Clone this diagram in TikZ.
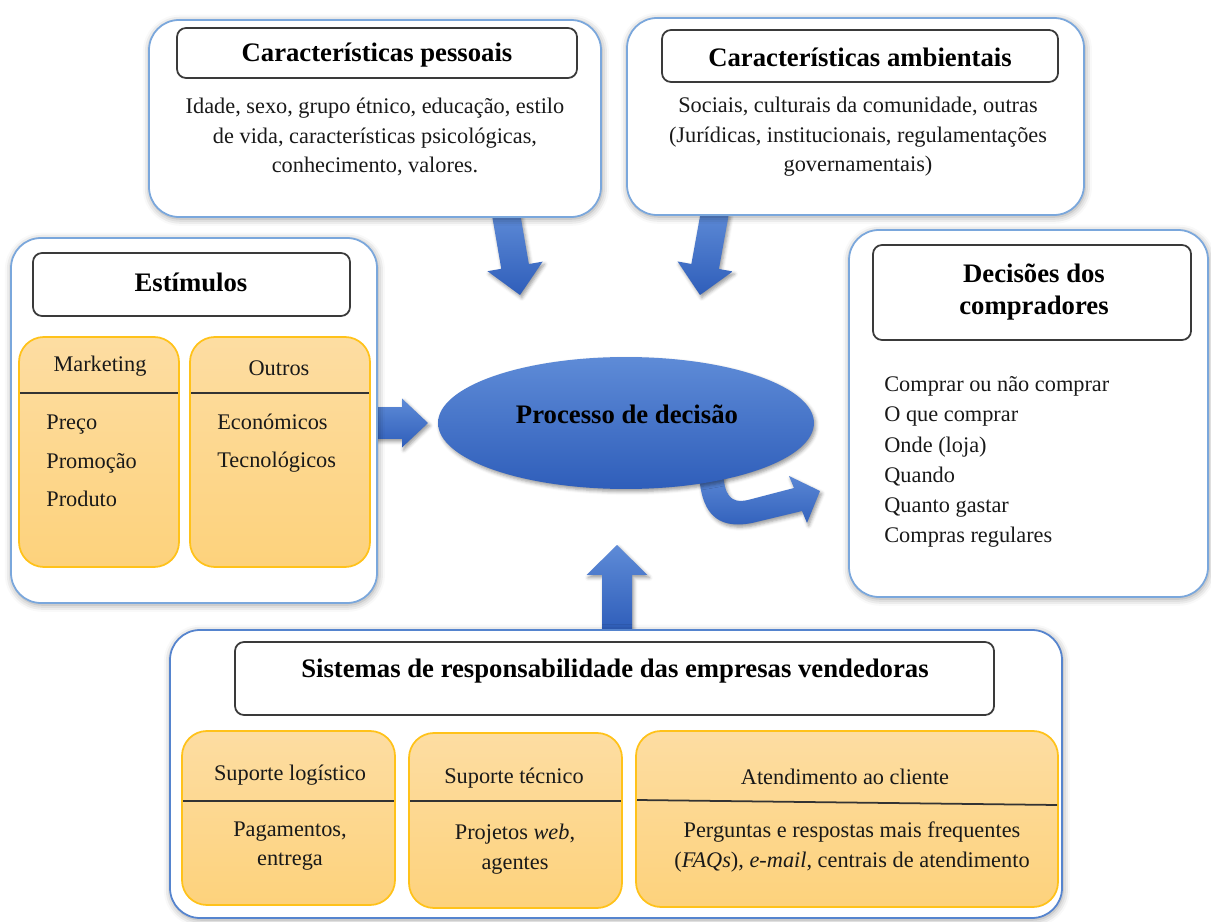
\documentclass[tikz,border=0pt]{standalone}
\usepackage{fontspec}
\setmainfont{Liberation Serif}
\usetikzlibrary{calc,fit,shapes.geometric,shadows.blur}

\definecolor{panelblue}{HTML}{7AA7DC}
\definecolor{panelblueB}{HTML}{5584CE}
\definecolor{headgray}{HTML}{3A3A3A}
\definecolor{ochreline}{HTML}{FFC21A}
\definecolor{ochretop}{HTML}{FDDDA2}
\definecolor{ochrebot}{HTML}{FDD27C}
\definecolor{bluetop}{HTML}{5E8BD7}
\definecolor{bluebot}{HTML}{2F5EBA}

\tikzset{
  panel/.style={draw=panelblue, line width=1pt, fill=white, rounded corners=0.6cm, inner sep=0pt,
    blur shadow={shadow xshift=0.5pt, shadow yshift=-1pt, shadow blur radius=4pt, shadow opacity=40}},
  headbox/.style={draw=headgray, line width=1pt, fill=white, rounded corners=0.18cm, inner sep=0pt},
  ochrebox/.style={draw=ochreline, line width=1pt, rounded corners=0.5cm,
    top color=ochretop, bottom color=ochrebot, inner sep=0pt},
  divider/.style={draw=black!80, line width=1pt},
  txt/.style={font=\fontsize{12.7}{16.7}\selectfont, inner sep=0pt, text=black!90},
  ttl/.style={font=\fontsize{15.2}{18.7}\selectfont\bfseries, inner sep=0pt},
  bluefill/.style={top color=bluetop, bottom color=bluebot, draw=none,
    blur shadow={shadow xshift=1pt, shadow yshift=-1.5pt, shadow blur radius=2pt, shadow opacity=40}},
}

% straight block arrow: [options]{start}{tip}{shaft half width}{head half width}{head length}
\newcommand{\blockarrow}[6][]{%
  \coordinate (ba-h) at ($(#3)!#6!(#2)$);
  \path[bluefill,#1] ($(#2)!#4!90:(#3)$) -- ($(ba-h)!#4!-90:(#2)$) -- ($(ba-h)!#5!-90:(#2)$)
    -- (#3) -- ($(ba-h)!#5!90:(#2)$) -- ($(ba-h)!#4!90:(#2)$) -- ($(#2)!#4!-90:(#3)$) -- cycle;}

\begin{document}
\begin{tikzpicture}[x=0.02cm,y=-0.02cm]
\useasboundingbox (0,0) rectangle (1211,922);

% arrow end points
\coordinate (a1s) at (506,214);
\coordinate (a1e) at (520,295);
\coordinate (a2s) at (715,212);
\coordinate (a2e) at (700,295);
\coordinate (a3s) at (375,423);
\coordinate (a3e) at (428,423);
\coordinate (a4s) at (617,630);
\coordinate (a4e) at (617,545);

% block arrows towards the decision process
\blockarrow{a1s}{a1e}{0.28cm}{0.56cm}{0.58cm}
\blockarrow{a2s}{a2e}{0.28cm}{0.56cm}{0.58cm}
\blockarrow{a3s}{a3e}{0.32cm}{0.49cm}{0.52cm}
\blockarrow{a4s}{a4e}{0.30cm}{0.61cm}{0.60cm}

% bent arrow out of the decision process
\path[bluefill] (699,470) .. controls (700,512) and (716,530) .. (752,523) -- (802,511)
  -- (807,523) -- (820,491) -- (789,476) -- (794,488) -- (748,500)
  .. controls (730,504) and (724,495) .. (723,470) -- cycle;

% outer panels
\node[panel, fit={(149,20) (601,217)}] (pess) {};
\node[panel, fit={(627,18) (1084,215)}] (amb) {};
\node[panel, fit={(11,238) (377,603)}] (stim) {};
\node[panel, fit={(849,230) (1208,597)}] (dec) {};
\node[panel, draw=panelblueB, fit={(170,630) (1062,918)}] (sist) {};

% header boxes
\node[headbox, fit={(177,28) (577,78)}] (pess-h) {};
\node[headbox, fit={(662,30) (1058,82)}] (amb-h) {};
\node[headbox, fit={(33,253) (350,316)}] (stim-h) {};
\node[headbox, fit={(873,245) (1191,340)}] (dec-h) {};
\node[headbox, fit={(235,642) (994,715)}] (sist-h) {};

\node[ttl] (pess-t) at (377,55) {Características pessoais};
\node[ttl] (amb-t) at (860,57) {Características ambientais};
\node[ttl] (stim-t) at (191,282) {Estímulos};
\node[ttl, align=center] (dec-t) at (1034,292) {Decisões dos\\compradores};
\node[ttl] (sist-t) at (615,671) {Sistemas de responsabilidade das empresas vendedoras};

% panel texts
\node[txt, align=center] (pess-b) at (375,137)
  {Idade, sexo, grupo étnico, educação, estilo\\de vida, características psicológicas,\\conhecimento, valores.};
\node[txt, align=center] (amb-b) at (858,137)
  {Sociais, culturais da comunidade, outras\\(Jurídicas, institucionais, regulamentações\\governamentais)};
\node[txt, align=left, anchor=west, font=\fontsize{12.7}{17.2}\selectfont] (dec-b) at (884,462)
  {Comprar ou não comprar\\O que comprar\\Onde (loja)\\Quando\\Quanto gastar\\Compras regulares};

% stimulus columns
\node[ochrebox, fit={(19,337) (179,567)}] (mkt) {};
\node[ochrebox, fit={(190,337) (370,567)}] (outr) {};
\draw[divider] (20,393) -- (178,393);
\draw[divider] (191,393) -- (369,393);
\node[txt] (mkt-t) at (100,366) {Marketing};
\node[txt] (outr-t) at (279,368) {Outros};
\node[txt, align=left, anchor=west, font=\fontsize{12.7}{21.8}\selectfont] (mkt-b) at (46,461)
  {Preço\\Promoção\\Produto};
\node[txt, align=left, anchor=west, font=\fontsize{12.7}{21.8}\selectfont] (outr-b) at (217,443)
  {Económicos\\Tecnológicos};

% seller support columns
\node[ochrebox, fit={(182,731) (395,905)}] (log) {};
\node[ochrebox, fit={(409,733) (622,908)}] (tec) {};
\node[ochrebox, fit={(636,731) (1058,907)}] (ate) {};
\draw[divider] (183,801) -- (394,801);
\draw[divider] (410,801) -- (621,801);
\draw[divider] (637,800) -- (1057,805);
\node[txt] (log-t) at (290,775) {Suporte logístico};
\node[txt] (tec-t) at (514,778) {Suporte técnico};
\node[txt] (ate-t) at (845,777) {Atendimento ao cliente};
\node[txt, align=center] (log-b) at (290,846) {Pagamentos,\\entrega};
\node[txt, align=center] (tec-b) at (515,849) {Projetos \textit{web},\\agentes};
\node[txt, align=center] (ate-b) at (852,847)
  {Perguntas e respostas mais frequentes\\(\textit{FAQs}), \textit{e-mail}, centrais de atendimento};

% decision process
\node[ellipse, bluefill, minimum width=7.52cm, minimum height=2.64cm, inner sep=0pt] (proc) at (626,423) {};
\node[ttl] (proc-t) at (627,414) {Processo de decisão};

\end{tikzpicture}
\end{document}
